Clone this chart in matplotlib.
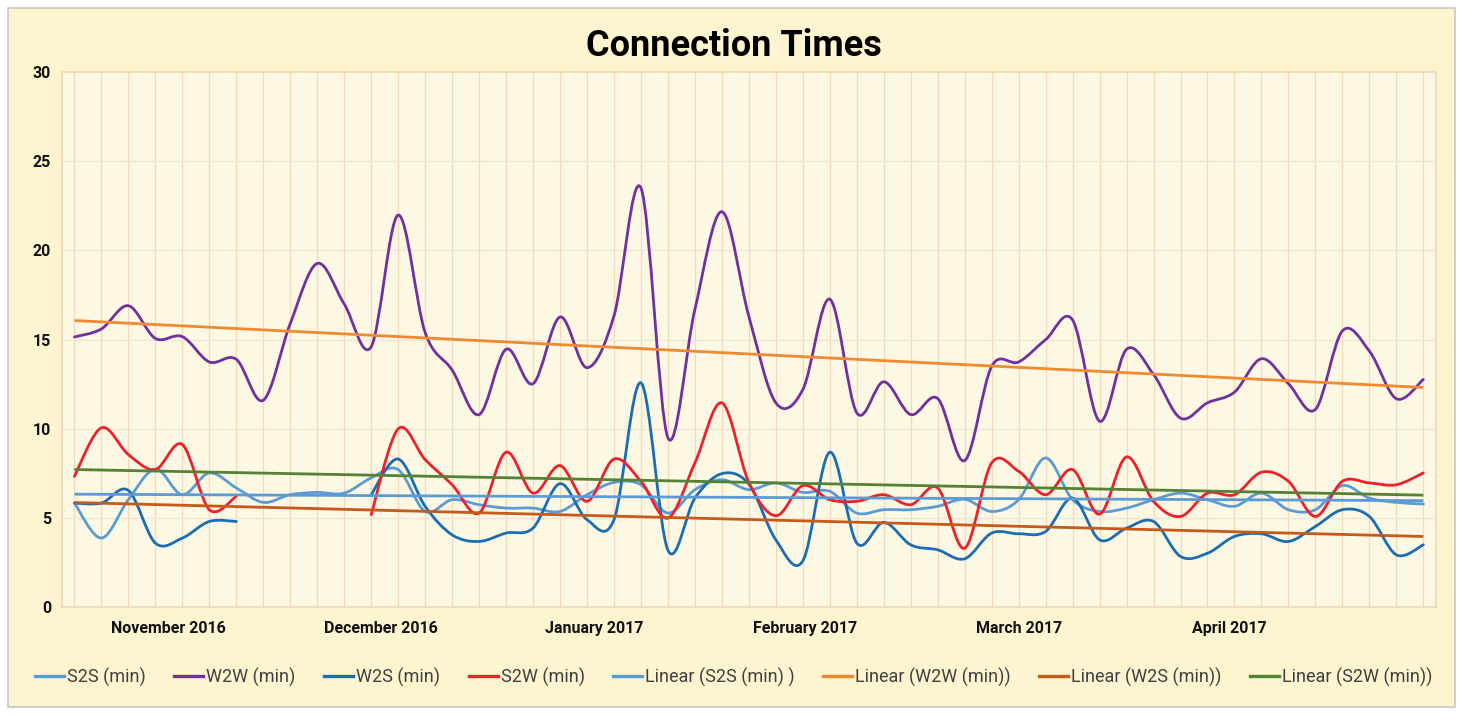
import numpy as np
import matplotlib
matplotlib.use('Agg')
import matplotlib.pyplot as plt
from matplotlib.path import Path
from matplotlib.patches import PathPatch, Rectangle
from matplotlib.lines import Line2D

plt.rcParams['font.family'] = ['Roboto', 'DejaVu Sans']

nan = np.nan

# Connection times per measurement (minutes), 51 samples Nov 2016 - Apr 2017
s2s = [5.84, 3.88, 6.03, 7.75, 6.31, 7.53, 6.69, 5.88, 6.31, 6.44,
       6.40, 7.25, 7.72, 5.37, 6.03, 5.75, 5.56, 5.56, 5.37, 6.31,
       7.00, 6.87, 5.28, 6.59, 7.15, 6.59, 6.97, 6.44, 6.50, 5.28,
       5.47, 5.47, 5.66, 6.05, 5.37, 6.03, 8.37, 6.03, 5.37, 5.56,
       6.03, 6.40, 6.03, 5.66, 6.40, 5.47, 5.47, 6.82, 6.12, 5.88,
       5.79]
w2w = [15.15, 15.60, 16.90, 15.07, 15.17, 13.75, 13.90, 11.60, 15.90, 19.27,
       17.00, 14.60, 21.98, 15.40, 13.30, 10.80, 14.46, 12.53, 16.27, 13.43,
       16.33, 23.50, 9.50, 16.70, 22.17, 16.30, 11.46, 12.20, 17.27, 10.90,
       12.64, 10.80, 11.70, 8.22, 13.50, 13.75, 15.00, 16.10, 10.43, 14.46,
       13.05, 10.60, 11.46, 12.06, 13.93, 12.53, 11.09, 15.49, 14.36, 11.69,
       12.77]
w2s = [5.84, 5.84, 6.55, 3.60, 3.88, 4.81, 4.81, nan, nan, nan,
       nan, 6.31, 8.31, 5.66, 4.06, 3.69, 4.16, 4.44, 6.93, 4.91,
       4.91, 12.58, 3.20, 6.12, 7.49, 6.90, 3.78, 2.60, 8.69, 3.60,
       4.76, 3.50, 3.22, 2.72, 4.16, 4.12, 4.25, 6.12, 3.78, 4.44,
       4.81, 2.85, 3.03, 3.97, 4.12, 3.69, 4.53, 5.47, 5.09, 2.94,
       3.50]
s2w = [7.34, 10.06, 8.56, 7.72, 9.12, 5.47, 6.22, nan, nan, nan,
       nan, 5.19, 10.00, 8.28, 6.87, 5.28, 8.69, 6.40, 7.94, 5.94,
       8.31, 7.06, 5.00, 8.09, 11.46, 7.00, 5.13, 6.82, 6.03, 5.94,
       6.31, 5.75, 6.69, 3.31, 8.09, 7.62, 6.31, 7.72, 5.22, 8.43,
       5.94, 5.09, 6.40, 6.31, 7.57, 7.06, 5.09, 7.06, 6.97, 6.87,
       7.53]

month_labels = ['November 2016', 'December 2016', 'January 2017',
                'February 2017', 'March 2017', 'April 2017']
month_centers = [3.5, 11.35, 19.25, 27.1, 35.0, 42.8]

series = [
    ('S2S (min)', s2s, '#5B9BD5'),
    ('W2W (min)', w2w, '#7030A0'),
    ('W2S (min)', w2s, '#1A6DB5'),
    ('S2W (min)', s2w, '#F0202A'),
]
trends = [
    ('Linear (S2S (min) )', s2s, '#5B9BD5'),
    ('Linear (W2W (min))', w2w, '#F08A30'),
    ('Linear (W2S (min))', w2s, '#C55A1A'),
    ('Linear (S2W (min))', s2w, '#548235'),
]


def smooth_segments(ys):
    # Excel-style smoothed line: cubic Bezier through every point
    ys = np.asarray(ys, dtype=float)
    xs = np.arange(len(ys), dtype=float)
    ok = ~np.isnan(ys)
    paths = []
    start = None
    for i in range(len(ys) + 1):
        if i < len(ys) and ok[i]:
            if start is None:
                start = i
        elif start is not None:
            pts = np.column_stack([xs[start:i], ys[start:i]])
            n = len(pts)
            verts = [pts[0]]
            codes = [Path.MOVETO]
            for k in range(n - 1):
                p0 = pts[k - 1] if k > 0 else pts[k]
                p1, p2 = pts[k], pts[k + 1]
                p3 = pts[k + 2] if k + 2 < n else pts[k + 1]
                verts += [p1 + (p2 - p0) / 6, p2 - (p3 - p1) / 6, p2]
                codes += [Path.CURVE4] * 3
            paths.append(Path(verts, codes))
            start = None
    return paths


fig = plt.figure(figsize=(14.62, 7.15), dpi=100)
fig.patch.set_facecolor('white')
fig.patches.append(Rectangle((8 / 1462, 8 / 715), 1447 / 1462, 699 / 715,
                             transform=fig.transFigure, facecolor='#FEF4D0',
                             edgecolor='#C8C8C8', linewidth=1.2, zorder=-10))

ax = fig.add_axes([62 / 1462, 107.7 / 715, 1374 / 1462, 535.3 / 715])
ax.set_zorder(1)
ax.set_facecolor('#FCF8E3')
ax.set_xlim(-0.46, 50.47)
ax.set_ylim(0, 30)

for xg in range(len(w2w)):
    ax.axvline(xg, color='#F5D8B8', lw=0.9, zorder=1)
for yg in range(5, 30, 5):
    ax.axhline(yg, color='#EFE6D6', lw=1, zorder=1)

for sp in ax.spines.values():
    sp.set_color('#F3D6B4')
    sp.set_linewidth(1.2)

handles = []
labels = []
for name, vals, col in series:
    for p in smooth_segments(vals):
        ax.add_patch(PathPatch(p, fill=False, edgecolor=col, lw=2.0,
                               capstyle='round', joinstyle='round', zorder=3))
    handles.append(Line2D([], [], color=col, lw=2.4))
    labels.append(name)

# linear trendlines over the category index, blanks skipped
idx = np.arange(len(w2w))
for name, vals, col in trends:
    v = np.asarray(vals, dtype=float)
    ok = ~np.isnan(v)
    a, b = np.polyfit(idx[ok], v[ok], 1)
    ax.plot([idx[0], idx[-1]], [b, a * idx[-1] + b], color=col, lw=2.0,
            zorder=4, solid_capstyle='butt')
    handles.append(Line2D([], [], color=col, lw=2.4))
    labels.append(name)

ax.set_yticks(range(0, 31, 5))
ax.set_xticks(month_centers)
ax.set_xticklabels(month_labels)
ax.tick_params(axis='both', length=0, labelsize=11.5, colors='#111111')
ax.tick_params(axis='y', pad=8)
ax.tick_params(axis='x', pad=10)
for t in ax.get_xticklabels() + ax.get_yticklabels():
    t.set_fontweight('bold')

fig.text(0.502, 0.936, 'Connection Times', ha='center', va='center',
         fontsize=26, fontweight='bold', color='black')

fig.legend(handles, labels, loc='center', bbox_to_anchor=(0.502, 0.053),
           ncol=8, frameon=False, fontsize=13, handlelength=1.6,
           handletextpad=0.17, columnspacing=1.58, labelcolor='#404040')

fig.savefig('out.png', dpi=100, facecolor=fig.get_facecolor())
